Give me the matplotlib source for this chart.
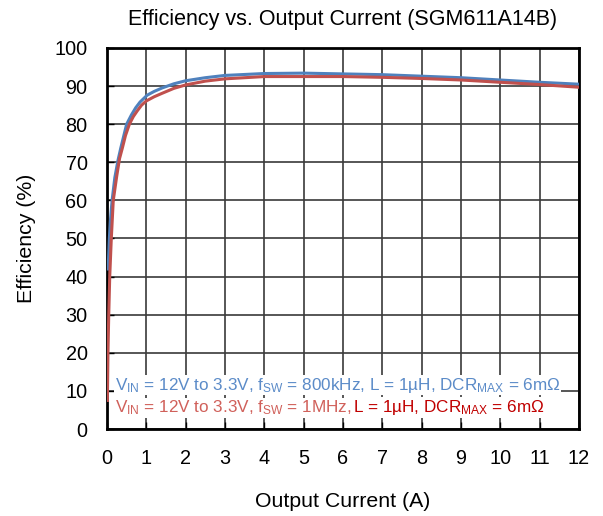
import matplotlib
matplotlib.use("Agg")
import matplotlib.pyplot as plt

plt.rcParams["font.family"] = ["Liberation Sans", "DejaVu Sans"]
plt.rcParams["mathtext.fontset"] = "custom"
plt.rcParams["mathtext.rm"] = "Liberation Sans"
plt.rcParams["mathtext.it"] = "Liberation Sans:italic"

# data
i_800k = [0.03, 0.06, 0.09, 0.13, 0.2, 0.28, 0.35, 0.5, 0.62, 0.73, 0.84, 1.02, 1.2, 1.4,
          1.7, 2, 2.5, 3, 4, 5, 6, 7, 8, 9, 10, 11, 12]
eff_800k = [42, 50, 55, 60, 66, 70.5, 73.7, 80, 82.4, 84.3, 85.8, 87.6, 88.6, 89.5,
            90.6, 91.4, 92.2, 92.8, 93.3, 93.4, 93.2, 93.0, 92.6, 92.2, 91.6, 91.0, 90.5]
i_1m = [0.01, 0.025, 0.045, 0.07, 0.11, 0.16, 0.25, 0.32, 0.39, 0.47, 0.57, 0.67, 0.77,
        0.88, 1.0, 1.2, 1.4, 1.7, 2, 2.5, 3, 4, 5, 6, 7, 8, 9, 10, 11, 12]
eff_1m = [7.5, 20, 30, 40, 50, 60, 66.5, 71, 73.7, 77, 80, 82, 83.5,
          85, 86.1, 87.2, 88.1, 89.4, 90.3, 91.3, 91.9, 92.5, 92.5, 92.5, 92.3, 92.0,
          91.6, 91.0, 90.4, 89.7]

xticks = list(range(0, 13))
yticks = list(range(0, 101, 10))

blue = "#4F81BD"
red = "#C0504D"

fig = plt.figure(figsize=(6.03, 5.16), dpi=100)
ax = fig.add_axes([0.1774, 0.1686, 0.7826, 0.7384])

ax.plot(i_800k, eff_800k, color=blue, lw=2.2, zorder=3, solid_joinstyle="round")
ax.plot(i_1m, eff_1m, color=red, lw=2.2, zorder=3, solid_joinstyle="round")

ax.set_xlim(0, 12)
ax.set_ylim(0, 100)
ax.set_xticks(xticks)
ax.set_yticks(yticks)
ax.grid(True, color="#3a3a3a", lw=1.2)
ax.tick_params(direction="in", length=5, width=1, labelsize=14.3,
               top=False, right=False)
ax.tick_params(axis="x", pad=14.5)
ax.tick_params(axis="y", pad=14)
for s in ax.spines.values():
    s.set_linewidth(2)
    s.set_color("black")

ax.set_title("Efficiency vs. Output Current (SGM611A14B)", fontsize=15.5, pad=16.5)
ax.set_xlabel("Output Current (A)", fontsize=15.3, labelpad=17)
ax.set_ylabel("Efficiency (%)", fontsize=15.3, labelpad=13.5)

box = dict(facecolor="white", edgecolor="none", pad=0.5)
ax.text(0.2, 11.5,
        r"V$_{\mathrm{IN}}$ = 12V to 3.3V, f$_{\mathrm{SW}}$ = 800kHz, L = 1µH, DCR$_{\mathrm{MAX}}$ = 6mΩ",
        color="#5B8BC8", fontsize=12.3, va="center", ha="left", bbox=box, zorder=4)
t1 = ax.text(0.2, 5.6,
             r"V$_{\mathrm{IN}}$ = 12V to 3.3V, f$_{\mathrm{SW}}$ = 1MHz, ",
             color="#D0605A", fontsize=12.3, va="center", ha="left", bbox=box, zorder=4)
ax.annotate(r"L = 1µH, DCR$_{\mathrm{MAX}}$ = 6mΩ", xy=(1, 0.5), xycoords=t1,
            color="#C00000", fontsize=12.3, va="center", ha="left", bbox=box, zorder=4)

fig.savefig("out.png", dpi=100)
